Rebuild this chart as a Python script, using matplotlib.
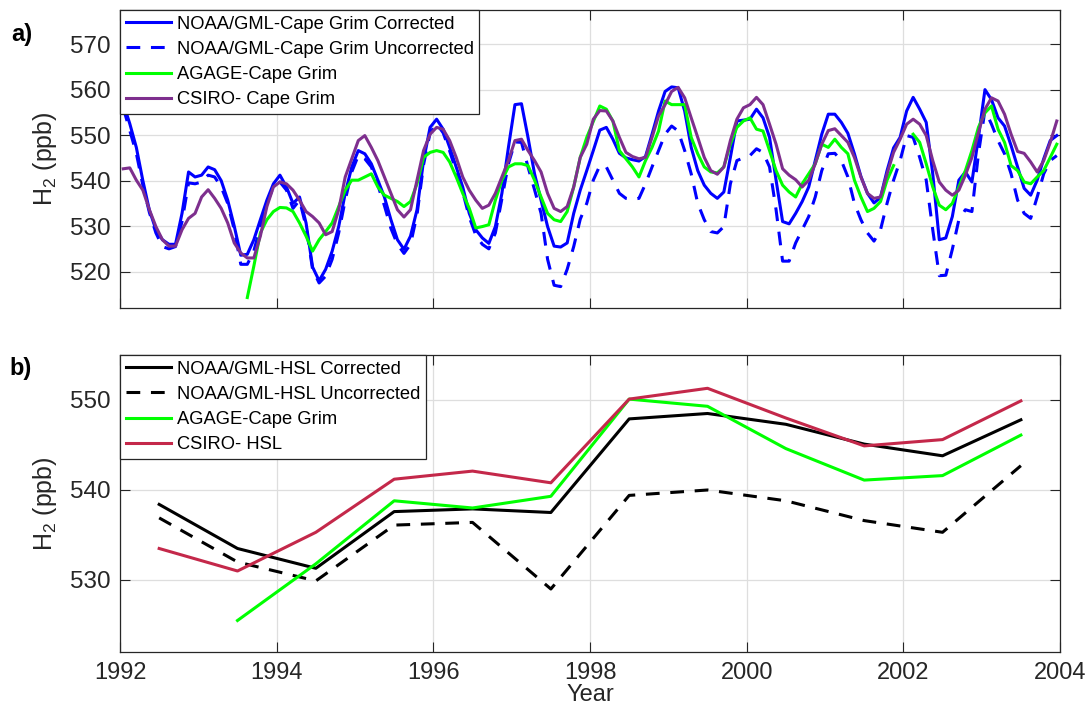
import numpy as np
import matplotlib
matplotlib.use("Agg")
import matplotlib.pyplot as plt

plt.rcParams['font.family'] = ['Liberation Sans', 'DejaVu Sans']
plt.rcParams['mathtext.fontset'] = 'custom'
plt.rcParams['mathtext.rm'] = 'Liberation Sans'
plt.rcParams['mathtext.default'] = 'regular'

nan = np.nan

# ---------------- Panel a: monthly Cape Grim series (1992-2003) ----------------
start_year = 1992
noaa_cg_corrected = [
    557, 552.5, 547.3, 540, 533.5, 529.2, 527, 526, 526, 532.8, 541.9, 540.8,
    541.2, 543, 542.4, 540, 535.7, 530, 523.6, 523.8, 527, 531.4, 535.7, 539.3,
    541.2, 538.6, 535, 536.4, 530.7, 521, 518, 520.5, 524.5, 529.9, 537.2, 543,
    546.6, 545.9, 543.7, 540.1, 536.4, 531.4, 527, 524.9, 527.8, 533.6, 544.4, 551.7,
    553.5, 551.3, 547.3, 543, 538.6, 532.8, 529.2, 527.4, 526.2, 529.9, 537.2, 547.3,
    556.7, 556.9, 549.5, 541.5, 535.7, 529.9, 525.6, 525.4, 526.3, 532.8, 537.9, 542.2,
    546.6, 551.1, 551.7, 549.1, 546, 545, 544.6, 544.3, 545.3, 550.2, 555.3, 559.6,
    560.6, 560.4, 555.3, 547.3, 542.2, 539, 537.2, 536.1, 537.5, 545.1, 553.1, 553.3,
    553.5, 555.7, 553.8, 549.5, 540.1, 531, 530.5, 532.8, 535.4, 538.6, 544.4, 550.2,
    554.6, 554.6, 552.8, 550.4, 545.9, 540.9, 537.2, 535.1, 536.3, 542.2, 547.2, 549.5,
    555.3, 558.3, 555.7, 552.8, 541.5, 527, 527.4, 532.1, 540.1, 541.9, 539.7, 549.5,
    560, 557.8, 553.8, 552, 547.7, 543, 538.3, 536.8, 540.1, 544.8, 548.8, 549.9,
]
noaa_cg_uncorrected = [
    556, 551, 546, 539, 533, 528.5, 525.5, 525, 525.5, 531, 539.5, 539.3,
    539.7, 541.2, 540.8, 538.6, 535, 529.2, 521.6, 521.6, 524.5, 530, 535, 538.6,
    539.7, 537.9, 533.9, 535.7, 529.9, 520.5, 517.5, 519, 522.7, 528.5, 535.7, 541.9,
    545.5, 544.8, 543, 539, 534.5, 529.5, 526, 524, 526, 532.5, 543.5, 550.5,
    552.5, 550.5, 546.5, 542, 537.5, 532, 528, 526, 525, 528.5, 536, 543.7,
    548.5, 548.4, 543, 538, 532.8, 522.7, 517, 516.7, 520.5, 525.5, 531.5, 535,
    540.1, 543.3, 543, 540.1, 537.2, 536.1, 535.9, 536.1, 539.3, 543, 546.6, 550.2,
    552, 550.9, 546.6, 541.5, 535, 531.4, 528.8, 528.5, 529.9, 539.3, 544.4, 545,
    545.5, 547, 546.2, 543, 533.6, 522.3, 522.3, 526.3, 529.2, 532.1, 536.4, 542.2,
    545.9, 546, 544.4, 540.8, 535, 531.4, 528.5, 526.7, 529.2, 535, 540.1, 544.4,
    549.9, 549.5, 545.1, 540.1, 529.2, 519.1, 519.2, 524.9, 531.4, 533.6, 533.2, 545.9,
    555.5, 552.4, 548.8, 545.9, 541.5, 535.7, 532.8, 531.7, 536.4, 541.5, 544.4, 545.5,
]
agage_cg = [
    nan, nan, nan, nan, nan, nan, nan, nan, nan, nan, nan, nan,
    nan, nan, nan, nan, nan, nan, nan, 514.3, 521.2, 528.5, 531.4, 533.2,
    534.1, 534, 533.2, 530.7, 527.8, 524.5, 527, 528.8, 530.7, 534.3, 537.9, 540.1,
    540.1, 540.8, 541.5, 538.6, 536.8, 536.1, 535.4, 534.3, 535.4, 539.3, 545.1, 546.2,
    546.6, 546.2, 544.1, 540.8, 537.2, 533.9, 529.6, 529.9, 530.3, 535.7, 540.1, 543,
    543.7, 543.7, 543.3, 540.1, 536.4, 532.8, 531.4, 531, 533.2, 538.6, 545.1, 549.5,
    553, 556.4, 555.7, 553.1, 546.6, 544.8, 543, 540.8, 544.4, 547.3, 550.9, 557.5,
    556.7, 556.7, 556.7, 549.5, 545.9, 543, 541.9, 541.7, 543, 548, 551.7, 553.1,
    553.8, 551.3, 550.9, 546.6, 542.2, 539, 537.5, 536.4, 539.3, 541.5, 543.7, 548,
    547.3, 549.1, 547.3, 545.9, 540.1, 536.4, 533.2, 533.9, 535.4, 540.1, 543.3, nan,
    nan, 550.2, 548.4, 543.7, 538.6, 534.6, 533.6, 535, 538.6, 542.2, 546.6, 551.7,
    554.9, 556.4, 551.3, 548.4, 543.3, 542.2, 539.7, 539.3, 540.8, 542.2, 545.1, 548,
]
csiro_cg = [
    542.6, 542.8, 540.1, 537.9, 533.6, 529.9, 527, 525.6, 525.6, 529.2, 531.7, 532.8,
    536.4, 538, 536.1, 533.9, 530.7, 526.3, 524.1, 523, 523, 527.8, 534.3, 538.6,
    539.7, 539.3, 537.9, 535.7, 533.2, 532.1, 530.7, 528.1, 528.8, 533.6, 540.8, 544.8,
    548.8, 549.9, 547.3, 544.4, 540.8, 537.2, 533.6, 532, 533.6, 540.1, 546.6, 550.2,
    551.7, 551.3, 548.8, 545.1, 540.8, 537.9, 535.7, 533.9, 534.6, 537.2, 540.8, 544.4,
    548.8, 549.1, 546.6, 544.4, 541.9, 537.2, 533.9, 533.2, 534.3, 538.6, 545.1, 548,
    553.5, 555.4, 555.3, 553.1, 549.5, 546.2, 545.3, 544.8, 545.1, 549.5, 554.2, 556.7,
    559.6, 560.5, 558.2, 553.8, 549.5, 545.1, 542.2, 541.4, 543, 548.8, 553.5, 556,
    556.7, 558.3, 556.7, 552.4, 548, 542.6, 541.2, 540.2, 538.6, 540.1, 543.7, 548,
    551, 551.4, 549.9, 548.4, 545.1, 540.8, 537.2, 536.1, 536.4, 541.5, 546.2, 549.1,
    552.4, 553.5, 552.4, 549.9, 544.4, 539.7, 537.9, 536.8, 537.9, 541.2, 545.1, 550.6,
    555.7, 558.2, 557.5, 554.6, 550.2, 546.4, 546, 544.1, 541.9, 544.4, 548.4, 553.1,
]
labels_a = ['NOAA/GML-Cape Grim Corrected', 'NOAA/GML-Cape Grim Uncorrected',
            'AGAGE-Cape Grim', 'CSIRO- Cape Grim']

# ---------------- Panel b: annual means ----------------
years_b = [1992.5, 1993.5, 1994.5, 1995.5, 1996.5, 1997.5,
           1998.5, 1999.5, 2000.5, 2001.5, 2002.5, 2003.5]
noaa_hsl_corrected = [538.4, 533.5, 531.3, 537.6, 537.9, 537.5,
                      547.9, 548.5, 547.3, 545.1, 543.8, 547.8]
noaa_hsl_uncorrected = [536.9, 532.0, 529.9, 536.1, 536.4, 529.0,
                        539.4, 540.0, 538.8, 536.6, 535.3, 542.7]
agage_b = [nan, 525.5, 531.8, 538.8, 538.0, 539.3,
           550.1, 549.3, 544.6, 541.1, 541.6, 546.1]
csiro_hsl = [533.5, 531.0, 535.3, 541.2, 542.1, 540.8,
             550.1, 551.3, 548.0, 544.9, 545.6, 549.9]
labels_b = ['NOAA/GML-HSL Corrected', 'NOAA/GML-HSL Uncorrected',
            'AGAGE-Cape Grim', 'CSIRO- HSL']

xticks = [1992, 1994, 1996, 1998, 2000, 2002, 2004]
yticks_a = [520, 530, 540, 550, 560, 570]
yticks_b = [530, 540, 550]

BLUE = '#0000FF'
GREEN = '#00FF00'
PURPLE = '#7E2F8E'
RED = '#C4284A'
DARK = '#262626'
LW = 2.2
DASH = (0, (4.5, 3.5))

t_month = start_year + (np.arange(len(noaa_cg_corrected)) + 0.5) / 12.0

fig = plt.figure(figsize=(10.87, 7.10), dpi=100)
axa = fig.add_axes([0.1104, 0.5662, 0.8648, 0.4197])
axb = fig.add_axes([0.1104, 0.0817, 0.8648, 0.4183])


def style(ax, yticks, ylim):
    ax.set_xlim(1992, 2004)
    ax.set_ylim(*ylim)
    ax.set_xticks(xticks)
    ax.set_yticks(yticks)
    ax.grid(True, color='#dedede', linewidth=0.9)
    ax.set_axisbelow(True)
    ax.tick_params(direction='in', length=7, width=0.8, top=True, right=True,
                   colors=DARK, labelsize=17.5)
    ax.tick_params(axis='y', pad=7)
    ax.tick_params(axis='x', pad=7.5, labelsize=17)
    for s in ax.spines.values():
        s.set_color(DARK)
        s.set_linewidth(0.9)
    ax.set_ylabel(r'H$_2$ (ppb)', fontsize=18, color=DARK, labelpad=8)


style(axa, yticks_a, (512, 577.5))
axa.tick_params(labelbottom=False)
axa.plot(t_month, noaa_cg_corrected, color=BLUE, lw=LW, label=labels_a[0])
axa.plot(t_month, noaa_cg_uncorrected, color=BLUE, lw=LW, ls=DASH, label=labels_a[1])
axa.plot(t_month, agage_cg, color=GREEN, lw=LW, label=labels_a[2])
axa.plot(t_month, csiro_cg, color=PURPLE, lw=LW, label=labels_a[3])

style(axb, yticks_b, (522, 555))
axb.plot(years_b, noaa_hsl_corrected, color='black', lw=LW, label=labels_b[0])
axb.plot(years_b, noaa_hsl_uncorrected, color='black', lw=LW, ls=DASH, label=labels_b[1])
axb.plot(years_b, agage_b, color=GREEN, lw=LW, label=labels_b[2])
axb.plot(years_b, csiro_hsl, color=RED, lw=LW, label=labels_b[3])
axb.set_xlabel('Year', fontsize=17, color=DARK, labelpad=0)

for ax in (axa, axb):
    leg = ax.legend(loc='upper left', bbox_to_anchor=(0, 1), borderaxespad=0,
                    fontsize=13.2, fancybox=False, framealpha=1, edgecolor=DARK,
                    handlelength=2.5, handletextpad=0.3, labelspacing=0.45,
                    borderpad=0.3)
    leg.get_frame().set_linewidth(0.9)
    for txt in leg.get_texts():
        txt.set_color('black')

fig.text(0.010, 0.942, 'a)', fontsize=17, fontweight='bold', color='black')
fig.text(0.009, 0.472, 'b)', fontsize=17, fontweight='bold', color='black')

fig.savefig('out.png', dpi=100)
